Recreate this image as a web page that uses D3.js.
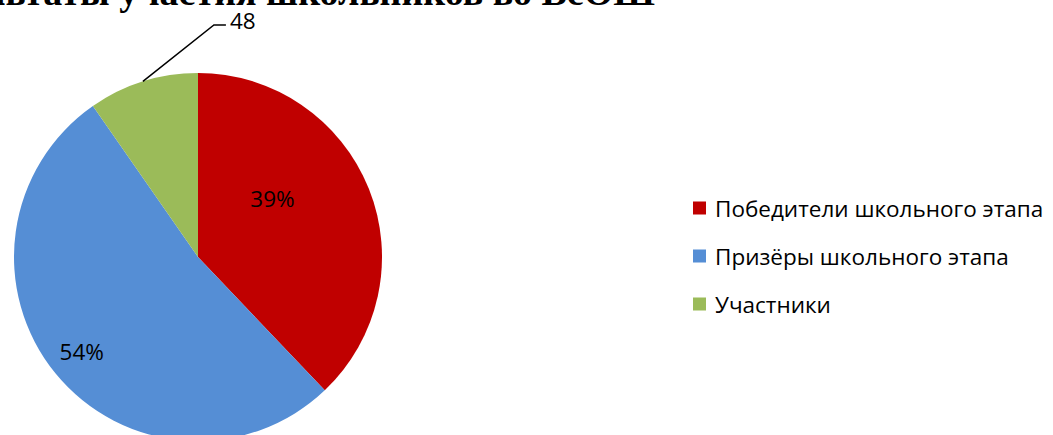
<!DOCTYPE html>
<html>
<head>
<meta charset="utf-8">
<script src="https://cdn.jsdelivr.net/npm/d3@7/dist/d3.min.js"></script>
<style>
  html, body { margin: 0; padding: 0; background: #ffffff; }
  svg { display: block; }
</style>
</head>
<body>
<svg id="chart" width="1053" height="435"></svg>
<script>
// ---- data ----
const titleText = "Результаты участия школьников во ВсОШ";
const categories = ["Победители школьного этапа", "Призёры школьного этапа", "Участники"];
const values = [188, 260, 48];
const labelTexts = ["39%", "54%", "48"];
const colors = ["#C00000", "#558ED5", "#9BBB59"];

// ---- layout ----
const W = 1053, H = 435;
const cx = 198, cy = 257, R = 184;
const svg = d3.select("#chart");
svg.append("rect").attr("width", W).attr("height", H).attr("fill", "#fff");

// title (partly cut off at top in the reference)
svg.append("text")
  .attr("x", 655).attr("y", 5)
  .attr("text-anchor", "end")
  .attr("font-family", "'Liberation Serif', 'Times New Roman', serif")
  .attr("font-weight", "bold")
  .attr("font-size", 38)
  .attr("fill", "#000")
  .text(titleText);

const pie = d3.pie().sort(null).value(d => d)(values);
const arc = d3.arc().innerRadius(0).outerRadius(R);
const g = svg.append("g").attr("transform", `translate(${cx},${cy})`);

g.selectAll("path.slice").data(pie).enter().append("path")
  .attr("class", "slice")
  .attr("d", arc)
  .attr("fill", (d, i) => colors[i]);

// label placement inside slices: fraction along angle span and radius fraction
const inside = [{t: 0.38, r: 0.515}, {t: 0.5, r: 0.815}];
const labelFont = "'Open Sans', Lato, sans-serif";
const fs = 22.5;
inside.forEach((p, i) => {
  const d = pie[i];
  const a = d.startAngle + (d.endAngle - d.startAngle) * p.t;
  const rr = R * p.r;
  g.append("text")
    .attr("x", rr * Math.sin(a))
    .attr("y", -rr * Math.cos(a))
    .attr("text-anchor", "middle")
    .attr("dominant-baseline", "central")
    .attr("font-family", labelFont)
    .attr("font-size", fs)
    .attr("fill", "#000")
    .text(labelTexts[i]);
});

// outside label with leader line for the last slice
{
  const d = pie[2];
  const a = (d.startAngle + d.endAngle) / 2;
  const p0 = [R * Math.sin(a), -R * Math.cos(a)];
  const elbow = [p0[0] + 71, -232];
  const p2 = [elbow[0] + 12, elbow[1]];
  g.append("polyline")
    .attr("points", [p0, elbow, p2].map(p => p.join(",")).join(" "))
    .attr("fill", "none").attr("stroke", "#000").attr("stroke-width", 1.5);
  g.append("text")
    .attr("x", p2[0] + 4).attr("y", p2[1] - 5)
    .attr("dominant-baseline", "central")
    .attr("font-family", labelFont)
    .attr("font-size", fs)
    .attr("fill", "#000")
    .text(labelTexts[2]);
}

// legend
const leg = svg.append("g").attr("transform", "translate(693,208)");
const rowH = 48;
categories.forEach((c, i) => {
  const row = leg.append("g").attr("transform", `translate(0,${i * rowH})`);
  row.append("rect").attr("x", 0).attr("y", -6.5).attr("width", 13).attr("height", 13).attr("fill", colors[i]);
  row.append("text")
    .attr("x", 22).attr("y", 0)
    .attr("dominant-baseline", "central")
    .attr("font-family", labelFont)
    .attr("font-size", fs)
    .attr("fill", "#000")
    .text(c);
});
</script>
</body>
</html>
